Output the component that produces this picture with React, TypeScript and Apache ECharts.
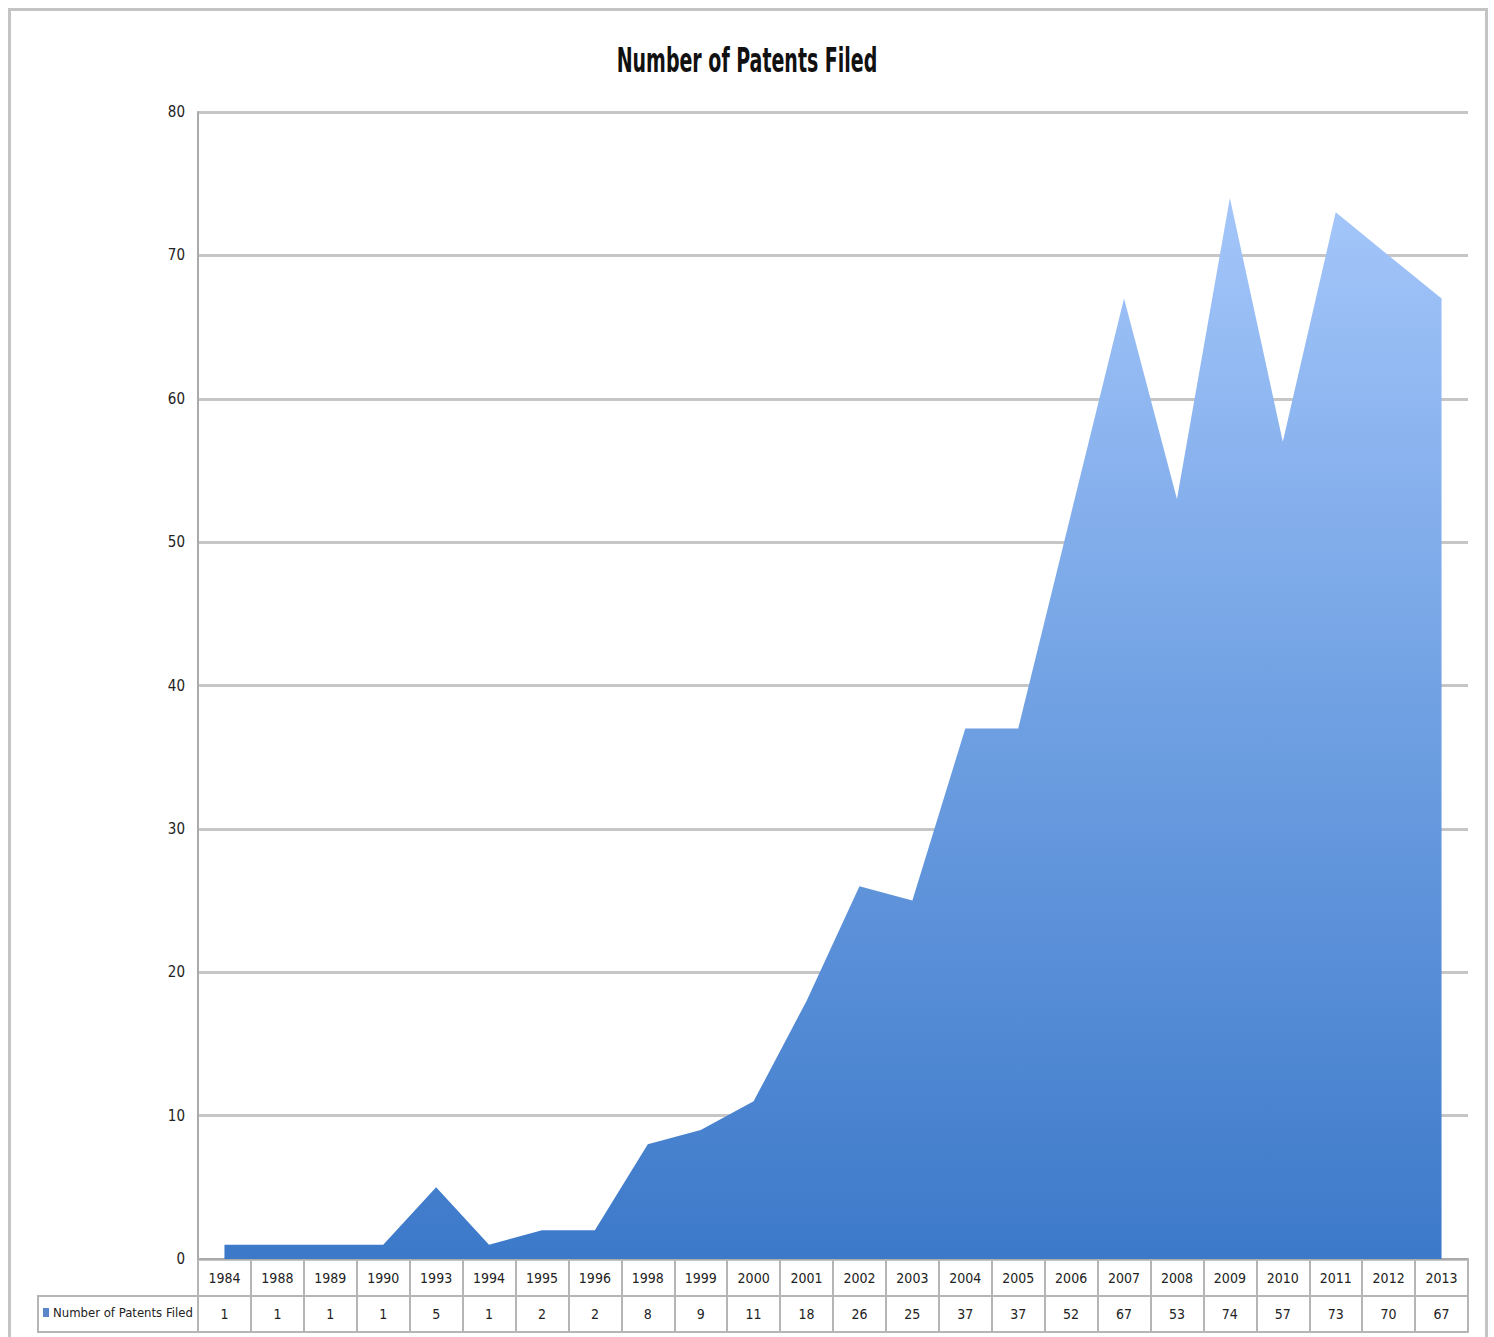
import React, { useEffect, useRef } from "react";
import * as echarts from "echarts";

const years = ["1984","1988","1989","1990","1993","1994","1995","1996","1998","1999","2000","2001","2002","2003","2004","2005","2006","2007","2008","2009","2010","2011","2012","2013"];
const patents = [1,1,1,1,5,1,2,2,8,9,11,18,26,25,37,37,52,67,53,74,57,73,70,67];
const seriesName = "Number of Patents Filed";
const chartTitle = "Number of Patents Filed";
const yTicks = { min: 0, max: 80, interval: 10 };

const FONT = "'DejaVu Sans Condensed', 'Liberation Sans Narrow', sans-serif";
const GRID_GREY = "#c6c6c6";
const TEXT = "#222";

export default function App() {
  const ref = useRef<HTMLDivElement>(null);
  useEffect(() => {
    if (!ref.current) return;
    const chart = echarts.init(ref.current, undefined, { renderer: "svg" });
    chart.setOption({
      animation: false,
      backgroundColor: "#fff",
      legend: {
        data: [{ name: seriesName, itemStyle: { color: "#5b86c9" } }],
        left: 43,
        top: 1306,
        icon: "rect",
        itemWidth: 6,
        itemHeight: 9,
        itemGap: 4,
        padding: 0,
        textStyle: { fontFamily: FONT, fontSize: 13, color: TEXT, padding: [0, 0, 0, -1] },
      },
      grid: { left: 198, right: 26, top: 112, bottom: 78, containLabel: false },
      xAxis: [
        {
          type: "category",
          data: years,
          boundaryGap: true,
          position: "bottom",
          axisLine: { show: true, lineStyle: { color: "#aaa", width: 2 } },
          axisTick: { show: true, interval: 0, length: 73, lineStyle: { color: "#b5b5b5", width: 2 } },
          axisLabel: { interval: 0, margin: 12, fontFamily: FONT, fontSize: 14, color: TEXT },
        },
        {
          type: "category",
          data: years,
          boundaryGap: true,
          position: "bottom",
          offset: 37,
          axisLine: { show: true, lineStyle: { color: "#b5b5b5", width: 2 } },
          axisTick: { show: false },
          axisLabel: {
            interval: 0,
            margin: 11,
            fontFamily: FONT,
            fontSize: 14,
            color: TEXT,
            formatter: (_v: string, i: number) => String(patents[i]),
          },
        },
        {
          type: "category",
          data: years,
          boundaryGap: true,
          position: "bottom",
          offset: 73,
          axisLine: { show: true, lineStyle: { color: "#b5b5b5", width: 2 } },
          axisTick: { show: false },
          axisLabel: { show: false },
        },
      ],
      yAxis: {
        type: "value",
        min: yTicks.min,
        max: yTicks.max,
        interval: yTicks.interval,
        axisLine: { show: true, lineStyle: { color: "#aaa", width: 2 } },
        axisTick: { show: false },
        axisLabel: { margin: 13, fontFamily: FONT, fontSize: 15, color: TEXT },
        splitLine: { show: true, lineStyle: { color: GRID_GREY, width: 3 } },
      },
      series: [
        {
          name: seriesName,
          type: "line",
          xAxisIndex: 0,
          data: patents,
          symbol: "none",
          lineStyle: { width: 0 },
          itemStyle: { color: "#5b86c9" },
          areaStyle: {
            opacity: 1,
            color: new echarts.graphic.LinearGradient(0, 0, 0, 1, [
              { offset: 0, color: "#a4c6fa" },
              { offset: 0.5, color: "#6e9fe2" },
              { offset: 1, color: "#3c79c9" },
            ]),
          },
          z: 3,
        },
      ],
      graphic: [
        {
          type: "text",
          x: 747,
          y: 61,
          scaleX: 0.64,
          silent: true,
          style: {
            text: chartTitle,
            x: 0,
            y: 0,
            align: "center",
            verticalAlign: "middle",
            fontFamily: FONT,
            fontSize: 33,
            fontWeight: "bold",
            fill: "#111",
          },
        },
        {
          type: "rect",
          shape: { x: 9.5, y: 9.5, width: 1477, height: 1350 },
          style: { fill: "none", stroke: "#c4c4c4", lineWidth: 3 },
          silent: true,
        },
        {
          type: "rect",
          shape: { x: 38, y: 1296, width: 160, height: 36 },
          style: { fill: "none", stroke: "#b5b5b5", lineWidth: 2 },
          silent: true,
        },
      ],
    });
    return () => chart.dispose();
  }, []);
  return <div ref={ref} style={{ width: 1494, height: 1337, position: "absolute", left: 0, top: 0 }} />;
}
